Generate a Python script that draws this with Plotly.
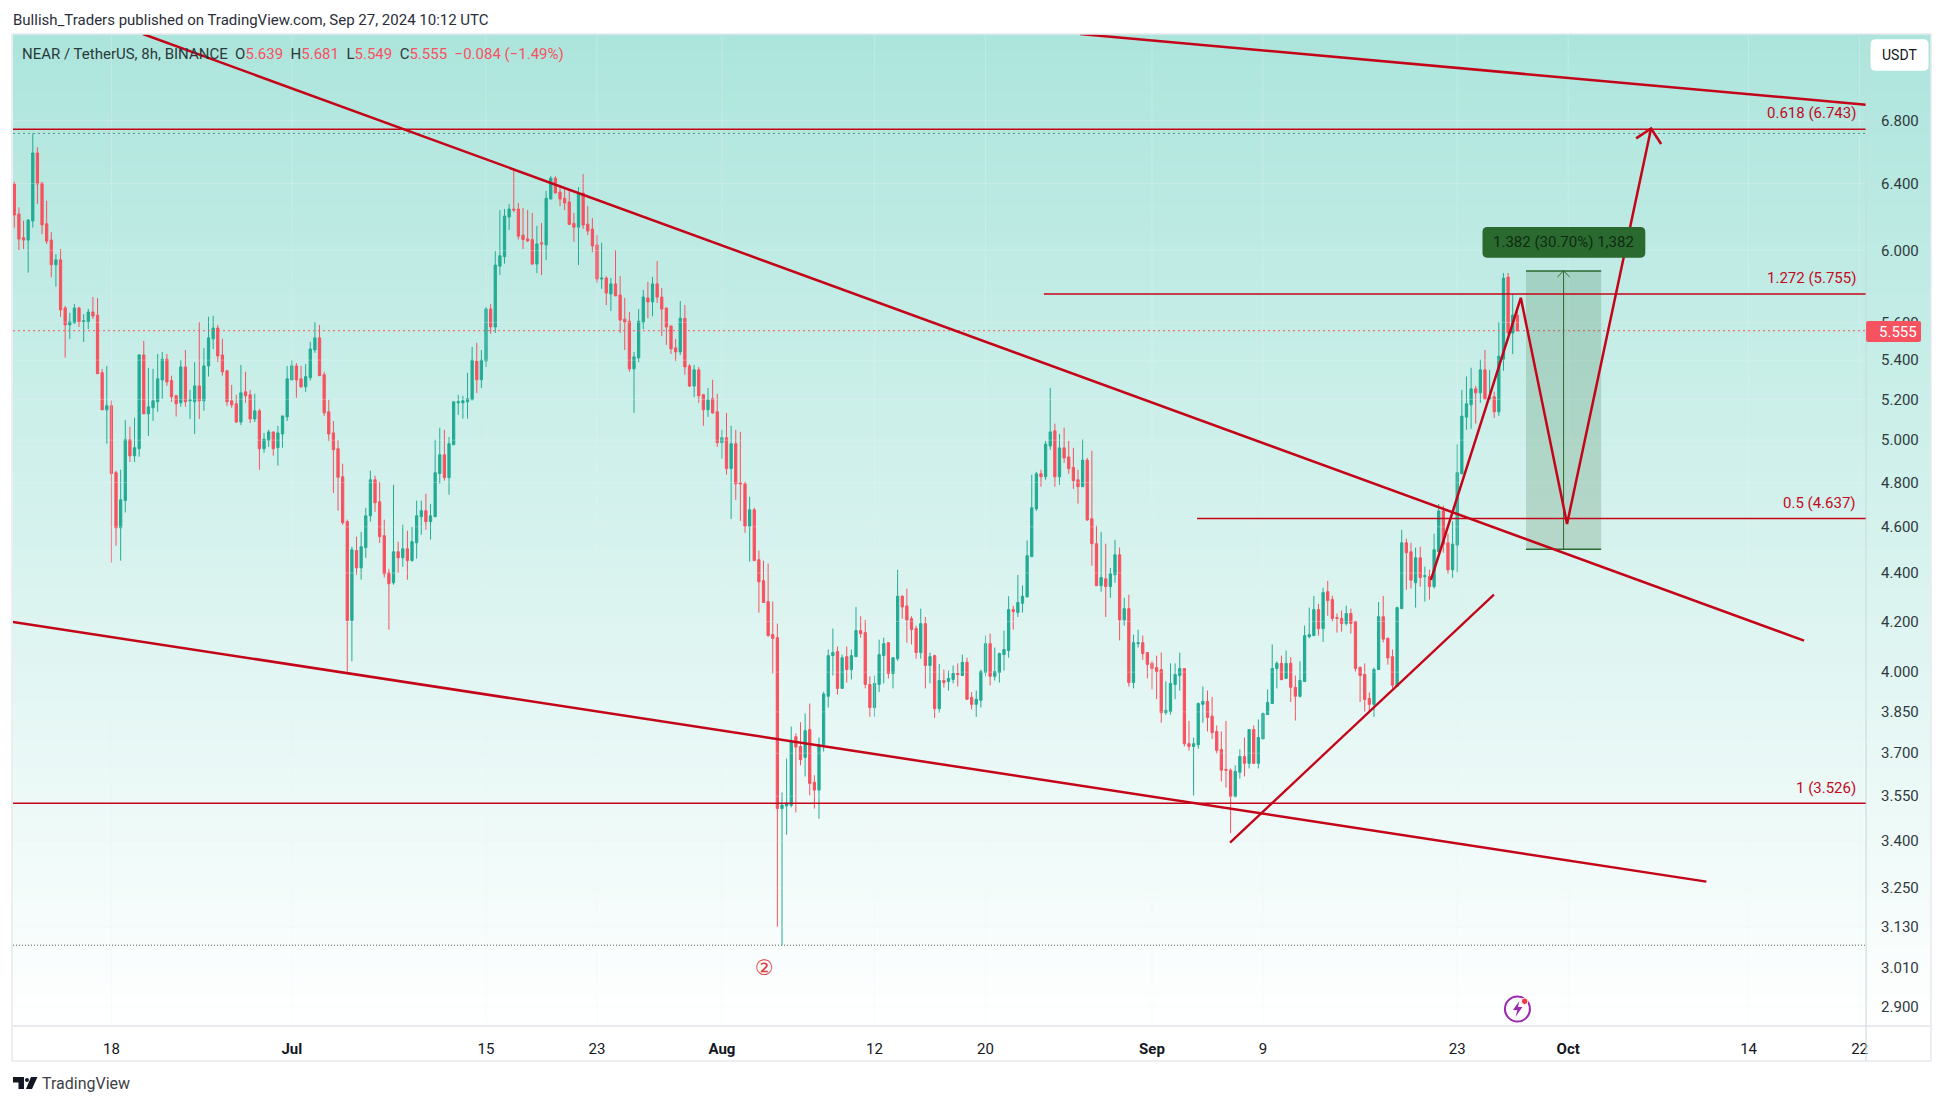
import math
import numpy as np
import pandas as pd
import plotly.graph_objects as go

W, H = 1946, 1105
first_bar = "2024-06-11 00:00"
opens = [6.397,6.215,6.075,6.061,6.174,6.591,6.403,6.157,6.061,5.919,
5.947,5.678,5.586,5.597,5.678,5.603,5.603,5.656,5.639,5.335,
5.148,5.168,4.846,4.596,4.718,5.002,4.925,4.959,5.427,5.128,
5.158,5.188,5.298,5.405,5.295,5.218,5.183,5.365,5.193,5.188,
5.268,5.193,5.370,5.512,5.569,5.427,5.345,5.193,5.178,5.088,
5.238,5.223,5.103,5.143,4.959,5.000,5.040,4.964,5.030,5.113,
5.298,5.370,5.304,5.263,5.310,5.453,5.517,5.325,5.138,5.035,
4.959,4.827,4.623,4.204,4.496,4.422,4.509,4.649,4.813,4.712,
4.561,4.401,4.359,4.491,4.465,4.504,4.453,4.530,4.645,4.672,
4.623,4.645,4.842,4.930,4.823,4.978,5.183,5.183,5.188,5.198,
5.395,5.299,5.395,5.672,5.575,5.911,5.965,6.197,6.245,6.245,
6.090,6.068,6.064,5.923,6.045,6.033,6.305,6.433,6.348,6.310,
6.287,6.159,6.137,6.342,6.155,6.126,6.033,5.838,5.844,5.755,
5.811,5.749,5.617,5.606,5.355,5.412,5.601,5.733,5.711,5.811,
5.738,5.678,5.581,5.464,5.443,5.622,5.370,5.267,5.350,5.223,
5.148,5.203,5.138,4.988,5.012,4.865,4.983,4.799,4.794,4.603,
4.676,4.457,4.368,4.281,4.147,4.135,3.508,3.517,3.519,3.759,
3.724,3.685,3.785,3.598,3.571,3.730,3.908,4.064,4.080,3.938,
4.060,4.010,4.060,4.163,4.155,3.953,3.866,3.953,4.064,4.115,
3.995,4.052,4.303,4.263,4.211,4.171,4.076,4.191,4.026,4.064,
3.862,3.968,3.964,3.972,3.995,3.987,4.038,3.904,3.878,3.893,
3.999,4.111,3.984,3.999,4.068,4.084,4.248,4.236,4.274,4.300,
4.470,4.680,4.841,4.827,4.972,5.045,4.827,4.963,4.920,4.870,
4.813,4.781,4.905,4.636,4.526,4.347,4.376,4.343,4.393,4.478,
4.206,4.252,3.960,4.111,4.115,4.076,4.034,4.018,4.010,3.847,
3.851,3.953,3.987,4.014,3.734,3.724,3.730,3.878,3.889,3.834,
3.778,3.713,3.643,3.640,3.549,3.633,3.688,3.664,3.785,3.664,
3.751,3.840,3.881,4.014,4.034,3.976,4.034,3.942,3.908,3.964,
4.139,4.143,4.248,4.171,4.322,4.289,4.216,4.212,4.192,4.232,
4.200,4.018,3.991,3.900,3.878,4.010,4.219,4.133,4.060,3.945,
4.252,4.530,4.491,4.359,4.465,4.385,4.385,4.343,4.491,4.671,
4.530,4.414,4.520,4.841,5.112,5.173,5.253,5.233,5.350,5.203,
5.213,5.138,5.405,5.849,5.543,5.639]
highs = [6.411,6.255,6.175,6.185,6.716,6.628,6.409,6.295,6.108,5.980,
6.009,5.689,5.651,5.700,5.684,5.645,5.673,5.738,5.732,5.355,
5.370,5.194,4.855,4.860,5.098,5.065,5.109,5.432,5.501,5.360,
5.355,5.432,5.443,5.432,5.320,5.223,5.400,5.453,5.248,5.390,
5.602,5.463,5.630,5.635,5.586,5.512,5.350,5.273,5.223,5.375,
5.340,5.248,5.228,5.153,5.035,5.050,5.040,5.069,5.118,5.370,
5.400,5.385,5.370,5.380,5.496,5.602,5.586,5.340,5.198,5.093,
5.000,4.888,4.632,4.513,4.557,4.578,4.685,4.855,4.832,4.804,
4.632,4.418,4.790,4.535,4.609,4.583,4.600,4.717,4.717,4.749,
4.703,5.002,5.060,5.050,5.015,5.188,5.223,5.218,5.335,5.469,
5.491,5.453,5.683,5.700,5.997,6.239,6.245,6.275,6.495,6.281,
6.251,6.239,6.221,6.145,6.162,6.355,6.446,6.446,6.385,6.372,
6.360,6.221,6.378,6.458,6.262,6.191,6.090,6.045,5.855,5.844,
6.003,5.855,5.733,5.656,5.443,5.672,5.777,5.822,5.850,5.940,
5.788,5.678,5.581,5.511,5.716,5.694,5.380,5.375,5.365,5.228,
5.257,5.299,5.228,5.050,5.133,5.070,5.050,5.040,4.804,4.735,
4.685,4.496,4.453,4.440,4.281,4.191,3.563,3.681,3.796,3.771,
3.812,3.844,3.881,3.622,3.756,3.925,4.088,4.171,4.100,4.068,
4.100,4.088,4.259,4.221,4.206,3.984,3.987,4.127,4.135,4.115,
4.056,4.414,4.307,4.334,4.221,4.183,4.252,4.218,4.076,4.068,
4.032,4.010,4.006,4.026,4.034,4.068,4.056,3.924,3.930,4.010,
4.143,4.151,4.096,4.076,4.163,4.303,4.263,4.392,4.348,4.540,
4.836,4.850,4.860,4.996,5.258,5.080,5.030,5.060,4.996,4.963,
4.860,5.003,4.915,4.949,4.605,4.578,4.526,4.422,4.543,4.509,
4.296,4.309,4.147,4.167,4.143,4.076,4.042,4.064,4.076,3.965,
4.034,4.034,4.076,4.014,3.817,3.756,3.885,3.945,3.930,3.906,
3.800,3.778,3.817,3.646,3.657,3.713,3.756,3.785,3.800,3.822,
3.848,3.934,4.108,4.042,4.064,4.084,4.058,3.987,4.042,4.183,
4.256,4.304,4.272,4.338,4.367,4.305,4.232,4.244,4.264,4.252,
4.200,4.022,4.034,3.923,4.018,4.279,4.304,4.133,4.088,4.260,
4.587,4.548,4.530,4.509,4.513,4.427,4.414,4.570,4.702,4.695,
4.570,4.624,4.980,5.248,5.316,5.361,5.268,5.403,5.453,5.350,
5.238,5.602,5.872,5.872,5.755,5.681]
lows = [6.134,6.003,6.009,5.874,6.134,6.276,6.096,6.038,5.848,5.796,
5.630,5.413,5.511,5.592,5.575,5.495,5.564,5.618,5.330,5.148,
4.983,4.445,4.517,4.453,4.664,4.896,4.896,4.921,5.128,5.020,
5.094,5.138,5.203,5.268,5.188,5.115,5.163,5.163,5.103,5.030,
5.103,5.143,5.315,5.458,5.390,5.320,5.168,5.158,5.083,5.073,
5.183,5.083,5.088,4.860,4.940,4.968,4.926,4.879,4.964,5.093,
5.298,5.208,5.258,5.238,5.295,5.438,5.320,5.118,4.995,4.752,
4.672,4.609,4.002,4.042,4.393,4.372,4.465,4.623,4.667,4.530,
4.381,4.167,4.351,4.401,4.427,4.372,4.449,4.461,4.565,4.587,
4.544,4.645,4.795,4.809,4.744,4.978,5.123,5.104,5.104,5.198,
5.232,5.257,5.365,5.538,5.543,5.861,5.925,6.120,6.227,6.064,
6.009,6.050,5.917,5.872,5.861,5.945,6.305,6.340,6.262,6.239,
6.153,6.052,5.917,6.126,6.090,5.991,5.817,5.783,5.694,5.662,
5.744,5.543,5.453,5.340,5.133,5.390,5.564,5.622,5.633,5.705,
5.527,5.480,5.432,5.395,5.427,5.325,5.262,5.212,5.183,5.070,
5.113,5.128,4.968,4.912,4.837,4.635,4.721,4.627,4.574,4.449,
4.453,4.236,4.277,4.139,3.995,3.131,3.076,3.421,3.512,3.495,
3.657,3.618,3.553,3.508,3.474,3.706,3.866,3.987,3.915,3.938,
3.960,3.972,4.060,4.135,3.938,3.832,3.832,3.924,3.957,3.976,
3.938,4.044,4.211,4.115,4.108,4.052,4.052,3.938,3.957,3.828,
3.847,3.941,3.930,3.957,3.945,3.987,3.897,3.859,3.832,3.866,
3.984,3.949,3.968,3.960,4.006,4.056,4.167,4.218,4.236,4.300,
4.470,4.671,4.781,4.813,4.954,4.781,4.790,4.892,4.841,4.771,
4.704,4.781,4.626,4.431,4.347,4.322,4.218,4.296,4.359,4.124,
4.183,3.945,3.938,4.096,4.048,3.976,3.934,3.897,3.810,3.840,
3.840,3.897,3.930,3.724,3.709,3.552,3.716,3.810,3.778,3.751,
3.699,3.601,3.580,3.426,3.546,3.611,3.618,3.646,3.664,3.646,
3.751,3.840,3.881,3.938,3.971,3.976,3.887,3.818,3.904,3.964,
4.132,4.143,4.143,4.118,4.223,4.200,4.155,4.159,4.184,4.151,
4.002,3.887,3.851,3.851,3.832,4.010,4.116,4.029,3.938,3.945,
4.252,4.330,4.335,4.256,4.343,4.281,4.289,4.335,4.491,4.487,
4.397,4.380,4.403,4.841,5.050,5.055,5.080,5.183,5.198,5.198,
5.108,5.118,5.345,5.537,5.432,5.549]
closes = [6.209,6.067,6.061,6.179,6.591,6.397,6.150,6.055,5.919,5.947,
5.667,5.586,5.603,5.678,5.603,5.608,5.656,5.634,5.330,5.148,
5.168,4.842,4.596,4.721,5.002,4.925,4.964,5.427,5.128,5.163,
5.193,5.304,5.405,5.288,5.213,5.178,5.365,5.188,5.198,5.268,
5.193,5.370,5.517,5.569,5.422,5.340,5.188,5.173,5.088,5.233,
5.218,5.103,5.143,4.959,5.005,5.040,4.959,5.035,5.118,5.304,
5.370,5.298,5.263,5.315,5.458,5.517,5.320,5.133,5.030,4.954,
4.825,4.618,4.204,4.500,4.422,4.513,4.649,4.813,4.708,4.557,
4.397,4.355,4.491,4.465,4.504,4.453,4.535,4.649,4.672,4.623,
4.649,4.846,4.930,4.823,4.983,5.188,5.188,5.193,5.203,5.400,
5.299,5.400,5.672,5.575,5.917,5.971,6.203,6.245,6.239,6.084,
6.064,6.056,5.923,6.039,6.039,6.310,6.433,6.342,6.305,6.281,
6.153,6.137,6.342,6.149,6.114,6.027,5.838,5.844,5.760,5.811,
5.744,5.612,5.601,5.355,5.417,5.606,5.738,5.711,5.811,5.738,
5.672,5.575,5.459,5.443,5.622,5.365,5.267,5.350,5.218,5.148,
5.198,5.133,4.988,5.012,4.865,4.983,4.794,4.794,4.603,4.676,
4.453,4.363,4.277,4.143,4.132,3.508,3.520,3.527,3.741,3.722,
3.677,3.781,3.594,3.571,3.730,3.917,4.064,4.076,3.938,4.056,
4.010,4.064,4.163,4.151,3.953,3.866,3.957,4.068,4.111,3.995,
4.056,4.303,4.259,4.206,4.167,4.076,4.191,4.026,4.060,3.862,
3.968,3.960,3.976,3.995,3.991,4.038,3.897,3.878,3.897,4.002,
4.111,3.984,4.002,4.072,4.088,4.248,4.240,4.277,4.303,4.474,
4.685,4.841,4.827,4.981,5.040,4.827,4.963,4.915,4.865,4.809,
4.781,4.905,4.631,4.526,4.347,4.381,4.343,4.397,4.478,4.206,
4.252,3.960,4.115,4.115,4.072,4.030,4.014,4.002,3.847,3.855,
3.957,3.991,4.014,3.734,3.724,3.734,3.881,3.889,3.829,3.774,
3.710,3.640,3.640,3.549,3.636,3.688,3.664,3.785,3.664,3.756,
3.844,3.885,4.014,4.034,3.971,4.034,3.942,3.908,3.968,4.143,
4.147,4.248,4.171,4.318,4.285,4.212,4.212,4.192,4.232,4.192,
4.014,3.987,3.896,3.878,4.010,4.219,4.129,4.055,3.950,4.256,
4.530,4.487,4.370,4.465,4.381,4.389,4.343,4.500,4.671,4.524,
4.414,4.524,4.846,5.117,5.178,5.253,5.233,5.350,5.203,5.208,
5.138,5.420,5.843,5.543,5.639,5.555]
assert len(opens) == len(highs) == len(lows) == len(closes) == 326

# axis ticks
price_ticks = [6.8,6.4,6.0,5.6,5.4,5.2,5.0,4.8,4.6,4.4,4.2,4.0,3.85,3.7,3.55,3.4,3.25,3.13,3.01,2.9]
date_ticks = ["2024-06-18","2024-07-01","2024-07-15","2024-07-23","2024-08-01","2024-08-12","2024-08-20",
              "2024-09-01","2024-09-09","2024-09-23","2024-10-01","2024-10-14","2024-10-22"]
date_labels = ["18","<b>Jul</b>","15","23","<b>Aug</b>","12","20","<b>Sep</b>","9","23","<b>Oct</b>","14","22"]

# drawings (dates and prices)
x_start, x_end = "2024-06-10 21:45", "2024-10-22 11:15"
y_min, y_max = 2.846, 7.39
fib_levels = [6.743, 5.755, 4.637, 3.526]
fib_starts = [x_start, "2024-08-24 05:00", "2024-09-04 06:00", x_start]
fib_labels = ["0.618 (6.743)", "1.272 (5.755)", "0.5 (4.637)", "1 (3.526)"]
high_level, low_level, last_price = 6.716, 3.076, 5.555
upper_fall_x = ["2024-06-20 06:37", "2024-10-18 00:00"]
upper_fall_y = [7.39, 4.123]
top_fall_x = ["2024-08-26 19:30", x_end]
top_fall_y = [7.39, 6.904]
lower_fall_x = [x_start, "2024-10-10 23:00"]
lower_fall_y = [4.198, 3.270]
support_x = ["2024-09-06 15:00", "2024-09-25 15:30"]
support_y = [3.395, 4.310]
path_x = ["2024-09-21 02:30", "2024-09-27 14:00", "2024-09-30 22:00", "2024-10-06 23:20"]
path_y = [4.371, 5.734, 4.613, 6.748]
head_x = ["2024-10-05 21:30", "2024-10-06 23:20", "2024-10-07 16:45"]
head_y = [6.684, 6.748, 6.648]
pos_left, pos_right, pos_mid = "2024-09-27 23:00", "2024-10-03 09:00", "2024-09-30 16:00"
pos_top, pos_bottom = 5.884, 4.502
pos_head_x = ["2024-09-30 05:30", pos_mid, "2024-10-01 02:30"]
pos_head_y = [5.85, pos_top, 5.85]

RED, GREEN = "#F7525F", "#22AB94"
LINE = "#C40418"
DARKGREEN = "#2A6A2F"
FONT = "Roboto, sans-serif"
SPLIT = 1868

def px(x): return x / W
def py(y): return 1 - y / H

def rounded(x0, y0, x1, y1, r):
    pts = f"M{px(x0+r)},{py(y0)} L{px(x1-r)},{py(y0)} Q{px(x1)},{py(y0)} {px(x1)},{py(y0+r)} "
    pts += f"L{px(x1)},{py(y1-r)} Q{px(x1)},{py(y1)} {px(x1-r)},{py(y1)} "
    pts += f"L{px(x0+r)},{py(y1)} Q{px(x0)},{py(y1)} {px(x0)},{py(y1-r)} "
    pts += f"L{px(x0)},{py(y0+r)} Q{px(x0)},{py(y0)} {px(x0+r)},{py(y0)} Z"
    return pts

def poly(points):
    return "M" + " L".join(f"{px(a)},{py(b)}" for a, b in points) + " Z"

fig = go.Figure()

# gradient background: price-axis strip (x) and main plot area (x2)
edges = np.logspace(math.log10(y_min), math.log10(y_max), 331)
zvals = [[i / 329] for i in range(330)]
scale = [[0, "#FFFFFF"], [1, "#ACE5DC"]]
fig.add_trace(go.Heatmap(x=[0, 1], y=edges, z=zvals, colorscale=scale, showscale=False,
                         zmin=0, zmax=1, hoverinfo="skip", xaxis="x", yaxis="y"))
fig.add_trace(go.Heatmap(x=[x_start, x_end], y=edges, z=zvals, colorscale=scale, showscale=False,
                         zmin=0, zmax=1, hoverinfo="skip", xaxis="x2", yaxis="y"))

# faint grid
gx, gy = [], []
for d in date_ticks:
    gx += [d, d, None]; gy += [y_min, y_max, None]
for p in price_ticks:
    gx += [x_start, x_end, None]; gy += [p, p, None]
fig.add_trace(go.Scatter(x=gx, y=gy, mode="lines", line=dict(color="rgba(240,243,250,0.30)", width=1),
                         hoverinfo="skip", showlegend=False, xaxis="x2", yaxis="y"))

# candles
dates = pd.date_range(first_bar, periods=len(opens), freq="8h").strftime("%Y-%m-%d %H:%M").tolist()
fig.add_trace(go.Candlestick(x=dates, open=opens, high=highs, low=lows, close=closes,
                             increasing=dict(line=dict(color=GREEN, width=1), fillcolor=GREEN),
                             decreasing=dict(line=dict(color=RED, width=1), fillcolor=RED),
                             whiskerwidth=0, hoverinfo="skip", showlegend=False, xaxis="x2", yaxis="y"))

def line(x, y, color=LINE, width=2.5, dash=None):
    fig.add_trace(go.Scatter(x=x, y=y, mode="lines", line=dict(color=color, width=width, dash=dash),
                             hoverinfo="skip", showlegend=False, xaxis="x2", yaxis="y"))

# dotted levels
line([x_start, x_end], [high_level]*2, "#5F8F86", 1, "2px,3px")
line([x_start, x_end], [low_level]*2, "#555E60", 1, "1px,2px")
line([x_start, x_end], [last_price]*2, RED, 1, "2px,3px")

# long position box
fig.add_trace(go.Scatter(x=[pos_left, pos_right, pos_right, pos_left, pos_left],
                         y=[pos_top, pos_top, pos_bottom, pos_bottom, pos_top],
                         mode="lines", fill="toself", fillcolor="rgba(39,103,47,0.19)",
                         line=dict(width=0), hoverinfo="skip", showlegend=False, xaxis="x2", yaxis="y"))
line([pos_left, pos_right], [pos_top]*2, DARKGREEN, 1.5)
line([pos_left, pos_right], [pos_bottom]*2, DARKGREEN, 1.5)
line([pos_mid, pos_mid], [pos_bottom, pos_top], DARKGREEN, 1)
line(pos_head_x, pos_head_y, DARKGREEN, 1)

# fib levels
for s, lv in zip(fib_starts, fib_levels):
    line([s, x_end], [lv, lv], LINE, 1.5)

# trend lines and projected path
line(upper_fall_x, upper_fall_y, LINE, 2.5)
line(top_fall_x, top_fall_y, LINE, 2.5)
line(lower_fall_x, lower_fall_y, LINE, 2.5)
line(support_x, support_y, LINE, 2.3)
line(path_x, path_y, LINE, 2.5)
line(head_x, head_y, LINE, 2.5)

shapes = []
FRAME = "#E6E9EE"
def seg(x0, y0, x1, y1, color=FRAME, width=1.5):
    shapes.append(dict(type="line", xref="paper", yref="paper", x0=px(x0), y0=py(y0), x1=px(x1), y1=py(y1),
                       line=dict(color=color, width=width)))
seg(12, 34, 1933, 34)
seg(12, 34, 12, 1061)
seg(12, 1061, 1933, 1061)
seg(1933, 34, 1933, 1061)
seg(13, 1026, 1933, 1026, "#E0E3EB", 1.5)
seg(SPLIT, 34, SPLIT, 1061, "#C3DCD8", 1)

# position label box, USDT button, last price tag
shapes.append(dict(type="path", xref="paper", yref="paper", path=rounded(1484, 227, 1647, 257.7, 5),
                   fillcolor="#2A6A2F", line=dict(width=0)))
shapes.append(dict(type="path", xref="paper", yref="paper", path=rounded(1872.5, 39.3, 1930.5, 70.7, 5),
                   fillcolor="#FFFFFF", line=dict(width=0)))
shapes.append(dict(type="path", xref="paper", yref="paper", path=rounded(SPLIT, 321, 1923, 342, 2),
                   fillcolor=RED, line=dict(width=0)))
# TradingView logo
for pts in ([(13,1077),(24,1077),(24,1089),(18.5,1089),(18.5,1082.5),(13,1082.5)],
            [(31,1077),(37.5,1077),(32,1089),(26,1089)]):
    shapes.append(dict(type="path", xref="paper", yref="paper", path=poly(pts), fillcolor="#131722", line=dict(width=0)))
shapes.append(dict(type="circle", xref="paper", yref="paper", x0=px(25), x1=px(29), y0=py(1082), y1=py(1078),
                   fillcolor="#131722", line=dict(width=0)))
# lightning badge
shapes.append(dict(type="circle", xref="paper", yref="paper", x0=px(1506.5), x1=px(1531.5), y0=py(1021.5), y1=py(996.5),
                   fillcolor="rgba(0,0,0,0)", line=dict(color="#9C27B0", width=2)))
shapes.append(dict(type="path", xref="paper", yref="paper",
                   path=poly([(1521,1001),(1514.5,1010),(1519,1010),(1517,1017),(1524,1007),(1519.5,1007)]),
                   fillcolor="#9C27B0", line=dict(width=0)))
shapes.append(dict(type="circle", xref="paper", yref="paper", x0=px(1523), x1=px(1529.5), y0=py(1004.5), y1=py(998),
                   fillcolor="#F23645", line=dict(color="#FFFFFF", width=1)))

annotations = []
def text(x, y, s, size=15, color="#131722", anchor="left", family=FONT):
    annotations.append(dict(xref="paper", yref="paper", x=px(x), y=py(y), text=s, showarrow=False,
                            xanchor=anchor, yanchor="middle", font=dict(family=family, size=size, color=color)))

text(11.5, 20, "Bullish_Traders published on TradingView.com, Sep 27, 2024 10:12 UTC", 15, "#2A2E39")
r = lambda s: f'<span style="color:{RED}">{s}</span>'
text(20.5, 54, "NEAR / TetherUS, 8h, BINANCE  O" + r("5.639") + "  H" + r("5.681") + "  L" + r("5.549") + "  C" + r("5.555")
     + "  " + r("−0.084 (−1.49%)"), 15, "#2A3A3A")
for lbl, yy in zip(fib_labels, [112.7, 277.7, 502.7, 788.3]):
    text(1860, yy, lbl, 15, "#C2091F", "right")
text(1565, 242, "1.382 (30.70%) 1,382", 15, "#0E2A12", "center")
text(1901.5, 55, "USDT", 14, "#131722", "center")
text(1879, 331.7, "5.555", 15, "#FFFFFF")
text(765, 968, "②", 21, "#E23B3B", "center", "DejaVu Sans")
text(40, 1083, "TradingView", 16, "#3D3F45")

fig.update_layout(
    width=W, height=H, margin=dict(l=0, r=0, t=0, b=0), paper_bgcolor="#FFFFFF", plot_bgcolor="#FFFFFF",
    showlegend=False, boxgap=0.3, shapes=shapes, annotations=annotations, dragmode=False,
    font=dict(family=FONT),
    xaxis=dict(domain=[px(SPLIT), px(1933)], range=[0, 1], anchor="y", visible=False, showgrid=False, zeroline=False),
    xaxis2=dict(domain=[px(13), px(SPLIT)], range=[x_start, x_end], type="date", anchor="y", rangeslider=dict(visible=False),
                tickmode="array", tickvals=date_ticks, ticktext=date_labels, ticks="outside", ticklen=9,
                tickcolor="rgba(0,0,0,0)", tickfont=dict(size=15, color="#131722", family=FONT),
                showgrid=False, zeroline=False, showline=False),
    yaxis=dict(domain=[py(1026), py(34)], type="log", range=[math.log10(y_min), math.log10(y_max)], side="right", anchor="x2",
               tickmode="array", tickvals=price_ticks, ticktext=[f"{p:.3f}" for p in price_ticks],
               ticks="outside", ticklen=11, tickcolor="rgba(0,0,0,0)",
               tickfont=dict(size=15, color="#2F3A3C", family=FONT), showgrid=False, zeroline=False, showline=False),
)
fig.write_html("out.html", config={"displayModeBar": False},
               post_script="document.body.style.margin='0';")
